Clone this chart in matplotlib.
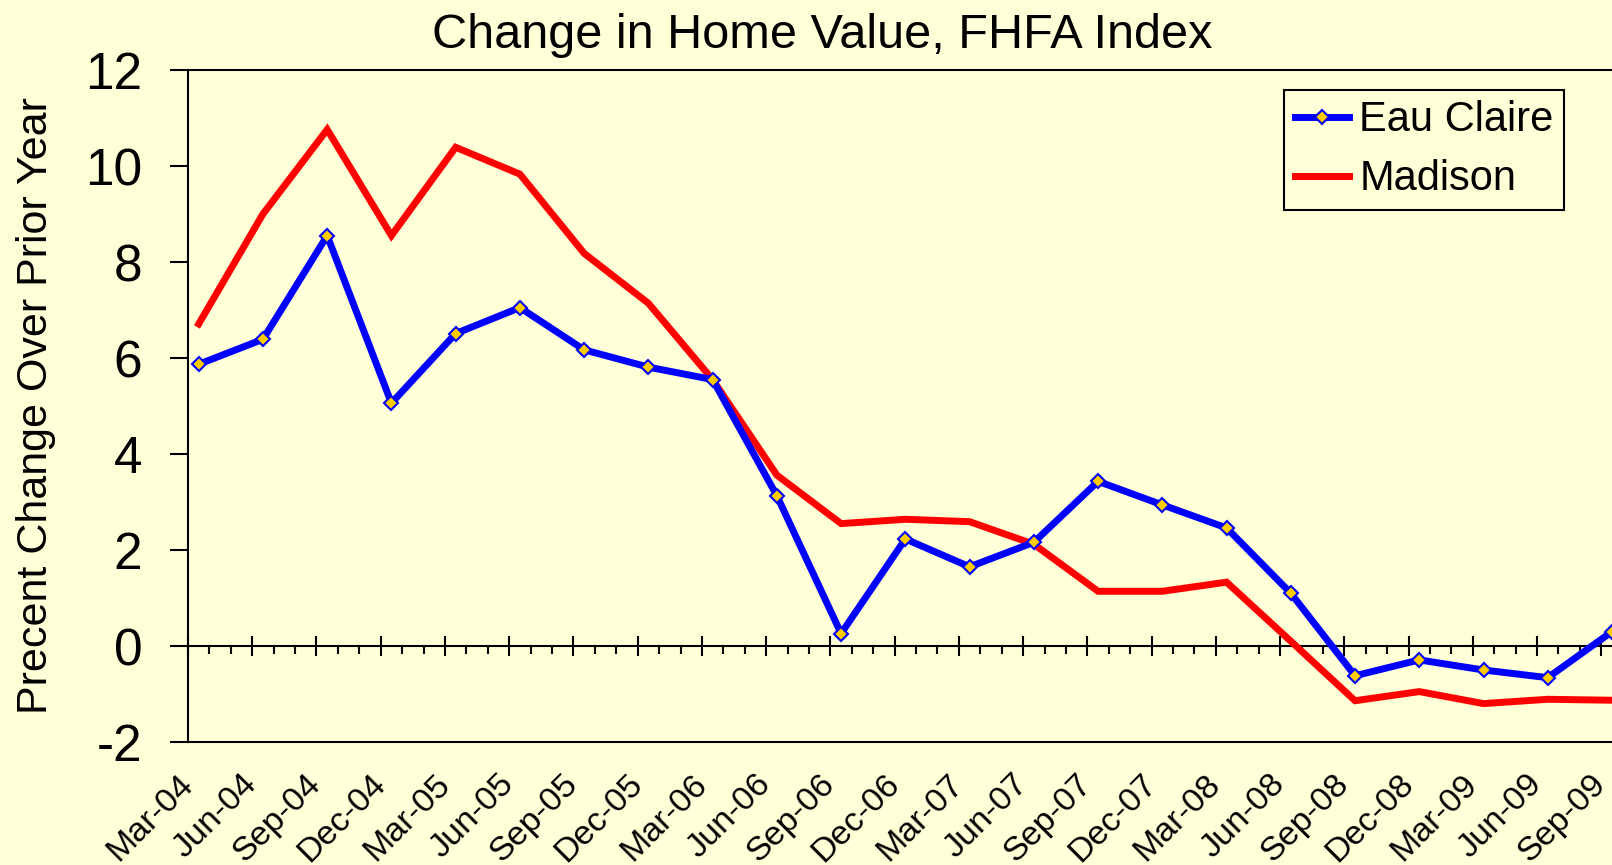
import matplotlib
matplotlib.use('Agg')
import matplotlib.pyplot as plt
from matplotlib.ticker import MultipleLocator, FixedLocator, NullFormatter

plt.rcParams['font.family'] = ['Liberation Sans', 'DejaVu Sans']
plt.rcParams['axes.unicode_minus'] = False

# quarterly readings, Mar-04 .. Sep-09
quarters = ['Mar-04', 'Jun-04', 'Sep-04', 'Dec-04', 'Mar-05', 'Jun-05', 'Sep-05',
            'Dec-05', 'Mar-06', 'Jun-06', 'Sep-06', 'Dec-06', 'Mar-07', 'Jun-07',
            'Sep-07', 'Dec-07', 'Mar-08', 'Jun-08', 'Sep-08', 'Dec-08', 'Mar-09',
            'Jun-09', 'Sep-09']
eau_claire = [5.87, 6.39, 8.55, 5.06, 6.51, 7.05, 6.17, 5.81, 5.55, 3.13, 0.26,
              2.23, 1.65, 2.16, 3.43, 2.94, 2.46, 1.10, -0.62, -0.29, -0.50,
              -0.66, 0.30]
madison = [6.71, 9.00, 10.76, 8.55, 10.39, 9.83, 8.18, 7.14, 5.55, 3.56, 2.55,
           2.64, 2.59, 2.12, 1.14, 1.14, 1.33, 0.10, -1.14, -0.95, -1.20,
           -1.11, -1.13]

bg = '#FFFFD8'
W, H = 1612, 865
fig = plt.figure(figsize=(W / 100, H / 100), dpi=100, facecolor=bg)
ax = fig.add_axes([188 / W, 1 - 742 / H, (W - 188) / W, (742 - 70) / H], facecolor=bg)

# months since Mar-04, data sit mid-month
tick_pos = [3 * i for i in range(len(quarters))]
xs = [p + 0.5 for p in tick_pos]

ax.plot(xs, eau_claire, color='#0000FF', lw=5, marker='D', ms=7,
        mfc='#FFCC00', mec='#0000FF', mew=1.5, label='Eau Claire',
        solid_joinstyle='miter', zorder=4)
ax.plot(xs, madison, color='#FF0000', lw=5, label='Madison',
        solid_joinstyle='miter', zorder=3)

ax.set_xlim(0, 66.5)
ax.set_ylim(-2, 12)
ax.set_yticks(range(-2, 13, 2))
ax.tick_params(axis='y', direction='out', length=13, width=1.5, pad=20,
               labelsize=37)

ax.xaxis.set_major_locator(FixedLocator(tick_pos))
ax.set_xticklabels(quarters)
ax.tick_params(axis='x', length=0, pad=27, labelsize=24.5)
for lab in ax.get_xticklabels():
    lab.set_rotation(45)
    lab.set_rotation_mode('anchor')
    lab.set_ha('right')
    lab.set_va('center')

for s in ['left', 'top', 'bottom']:
    ax.spines[s].set_linewidth(1.5)
ax.spines['right'].set_visible(False)

# x axis crossing at zero with month ticks
zero = ax.secondary_xaxis(2 / 14)
zero.spines['bottom'].set_linewidth(1.5)
zero.xaxis.set_major_locator(MultipleLocator(3))
zero.xaxis.set_minor_locator(MultipleLocator(1))
zero.xaxis.set_major_formatter(NullFormatter())
zero.tick_params(which='major', direction='inout', length=15, width=1.5)
zero.tick_params(which='minor', direction='out', length=5.8, width=1.5)

fig.text(36 / W, 1 - 406 / H, 'Precent Change Over Prior Year', rotation=90,
         ha='center', va='center', fontsize=31)
fig.text(822 / W, 1 - 48 / H, 'Change in Home Value, FHFA Index',
         ha='center', va='baseline', fontsize=35)

leg = ax.legend(loc='upper right', bbox_to_anchor=(1564 / W, 1 - 90 / H),
                bbox_transform=fig.transFigure, borderaxespad=0, fontsize=30,
                frameon=True, fancybox=False, edgecolor='black',
                facecolor=bg, framealpha=1, handlelength=1.3,
                handletextpad=0.25, borderpad=0.25, labelspacing=0.45)
leg.get_frame().set_linewidth(1.5)

fig.savefig('out.png', dpi=100, facecolor=bg)
